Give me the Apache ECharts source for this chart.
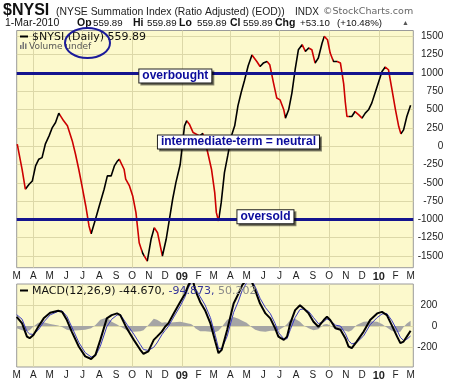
<!DOCTYPE html>
<html><head><meta charset="utf-8">
<script src="https://cdn.jsdelivr.net/npm/echarts@6/dist/echarts.min.js"></script>
<style>html,body{margin:0;padding:0;background:#fff}#c{width:461px;height:383px}</style>
</head><body><div id="c"></div>
<script>
// x values are calendar days counted from 1-Mar-2008
const START = Date.UTC(2008, 2, 1);
const DAY = 86400000;

// $NYSI (ratio adjusted summation index)
const nysiDays = [1,10,16,18,23,29,35,41,47,53,60,66,72,78,80,87,94,103,109,115,121,128,134,138,141,146,153,162,168,175,181,186,190,199,202,209,215,221,227,233,236,242,249,255,261,270,277,283,289,295,303,306,311,315,320,327,333,339,345,354,361,367,370,374,379,385,391,398,404,410,416,422,429,436,445,451,457,464,469,476,482,488,495,498,504,510,516,522,529,535,541,547,553,559,566,570,576,581,587,594,600,606,609,612,615,621,627,634,640,646,652,658,665,671,677,683,689,695,702,708,712,717,723,730];
const nysiValues = [27,-316,-588,-602,-520,-475,-270,-178,-156,27,141,254,323,451,460,346,278,72,-110,-315,-543,-817,-1090,-1196,-1182,-999,-817,-588,-406,-406,-270,-210,-178,-315,-451,-543,-680,-908,-1319,-1456,-1456,-1569,-1272,-1113,-1182,-1500,-1272,-999,-725,-498,-250,-51,278,346,301,186,164,141,175,-87,-315,-635,-908,-1022,-772,-361,-133,141,278,551,733,893,1098,1245,1157,1089,1135,1157,1112,862,657,633,497,383,497,725,1044,1317,1386,1294,1340,1317,1135,1204,1409,1499,1454,1272,1157,1157,1135,850,600,405,383,405,473,428,383,451,497,588,747,884,1020,1081,1044,793,497,268,168,223,405,559.89];

// MACD(12,26,9) panel
const macdDays = [0,10,19,24,31,40,50,62,77,84,93,102,115,127,138,146,155,167,176,186,192,204,217,229,235,244,254,260,269,275,281,291,303,312,318,323,327,331,340,349,359,368,374,380,390,402,411,418,426,435,442,451,461,470,479,485,495,501,507,516,525,532,541,550,559,569,575,581,591,600,609,615,621,630,643,655,668,677,686,695,705,711,717,723,730];
const macdValues = [88,25,-101,-116,-85,-7,73,126,145,135,57,-53,-195,-289,-314,-274,-132,73,104,120,104,-22,-132,-226,-264,-242,-132,-101,-53,-7,25,120,229,308,387,430,425,340,229,151,25,-148,-258,-226,-38,214,308,390,440,430,340,214,120,73,-22,-101,-132,-101,25,151,198,167,120,41,-7,57,88,57,-22,-35,-116,-195,-210,-148,-53,57,120,135,104,9,-101,-163,-148,-101,-44.67];
const signalValues = [108,65,-51,-76,-80,-37,38,106,140,145,92,-8,-155,-254,-294,-284,-192,-7,64,105,109,18,-77,-176,-224,-232,-202,-161,-83,-42,-5,85,189,278,362,410,420,360,279,201,80,-88,-213,-216,-98,129,238,340,410,440,375,264,175,118,23,-61,-122,-121,-35,81,158,162,140,81,23,42,68,52,8,0,-71,-140,-170,-158,-93,12,80,115,119,54,-41,-108,-138,-126,-94.873];
const histValues = [-20,-40,-50,-40,-5,30,35,20,5,-10,-35,-45,-40,-35,-20,10,60,80,40,15,-5,-40,-55,-50,-40,10,70,60,30,35,30,35,40,30,25,20,5,-20,-50,-50,-55,-60,-45,-10,60,85,70,50,30,-10,-35,-50,-55,-45,-45,-40,-10,20,60,70,40,5,-20,-40,-30,15,20,5,-30,-35,-45,-55,-40,10,40,45,40,20,-15,-45,-60,-55,-10,25,50.202];

const mainTicks = [-1500,-1250,-1000,-750,-500,-250,0,250,500,750,1000,1250,1500];
const macdTicks = [-200,0,200];
const levels = [{name:'overbought', value:1000}, {name:'oversold', value:-1000}];
const notes = [
  {name:'overbought', day:294, value:958},
  {name:'intermediate-term = neutral', day:411, value:57},
  {name:'oversold', day:461, value:-963}
];
const monthLetters = ['J','F','M','A','M','J','J','A','S','O','N','D'];

const X_MAX = 735;
function dateOf(d){ return new Date(START + d*DAY); }
const monthStarts = [];
for (let y=2008, m=2;;) {
  const d = Math.round((Date.UTC(y,m,1)-START)/DAY);
  if (d > X_MAX) break;
  monthStarts.push(d);
  m++; if (m>11){m=0;y++;}
}
const quarterStarts = monthStarts.filter(d => dateOf(d).getUTCMonth()%3===0);
function monthLabel(v){
  const dt = dateOf(Math.round(v));
  const m = dt.getUTCMonth();
  if (m===0) return '{y|'+String(dt.getUTCFullYear()).slice(2)+'}';
  return monthLetters[m];
}

const zip = (a,b) => a.map((d,i)=>[d,b[i]]);

// rising = black, falling = red
const RED = '#cc0000', BLACK = '#000000';
const pieces = [];
for (let i=0;i<nysiDays.length-1;i++){
  const c = nysiValues[i+1] >= nysiValues[i] ? BLACK : RED;
  const last = pieces[pieces.length-1];
  if (last && last.color===c) last.lt = nysiDays[i+1];
  else pieces.push({gte:nysiDays[i], lt:nysiDays[i+1], color:c});
}
pieces[0].gte = -10;
pieces[pieces.length-1].lt = X_MAX + 10;

const BG = '#fcf9cc', GRID = '#dcd8a8', FR = '#9a9a9a';
const SANS = 'Liberation Sans, Arial, sans-serif';
const VER = 'DejaVu Sans, Verdana, sans-serif';

const xAxisBase = (gi, margin) => ({
  gridIndex: gi, type:'value', min:0, max:X_MAX,
  axisLine:{show:false},
  axisTick:{show:false, customValues: quarterStarts},
  axisLabel:{customValues: monthStarts, formatter: monthLabel, fontSize:10, color:'#222',
    fontFamily:SANS, margin: margin, rich:{y:{fontWeight:'bold', fontSize:11, color:'#222', fontFamily:SANS}}},
  splitLine:{show:true, lineStyle:{color:GRID, width:1}}
});

const txt = (text, x, y, font, fill, extra) => ({type:'text', z:100, style:Object.assign({text, x, y, font, fill, verticalAlign:'middle'}, extra||{})});
const plain = v => String(v);

const option = {
  animation:false,
  backgroundColor:'#ffffff',
  grid:[
    {left:16.7, top:30.5, width:396.6, height:237.2, show:true, backgroundColor:BG, borderColor:FR, borderWidth:1},
    {left:16.7, top:284, width:396.6, height:83, show:true, backgroundColor:BG, borderColor:FR, borderWidth:1}
  ],
  xAxis:[ xAxisBase(0,4), xAxisBase(1,3) ],
  yAxis:[
    {gridIndex:0, type:'value', position:'right', min:-1660, max:1580,
      axisLine:{show:false}, axisTick:{show:false, customValues:mainTicks},
      axisLabel:{customValues:mainTicks, formatter:plain, align:'right', margin:30, fontSize:10, color:'#222', fontFamily:SANS},
      splitLine:{show:true, lineStyle:{color:GRID, width:1}}},
    {gridIndex:1, type:'value', position:'right', min:-390, max:400,
      axisLine:{show:false}, axisTick:{show:false, customValues:macdTicks},
      axisLabel:{customValues:macdTicks, formatter:plain, align:'right', margin:24, fontSize:10, color:'#222', fontFamily:SANS},
      splitLine:{show:true, lineStyle:{color:GRID, width:1}}}
  ],
  visualMap:{type:'piecewise', show:false, seriesIndex:0, dimension:0, pieces:pieces, outOfRange:{color:BLACK}},
  series:[
    {name:'$NYSI', type:'line', xAxisIndex:0, yAxisIndex:0, data:zip(nysiDays,nysiValues),
      showSymbol:false, symbol:'none', lineStyle:{width:1.6}, z:3},
    {name:'levels', type:'line', xAxisIndex:0, yAxisIndex:0, data:[], z:2,
      markLine:{silent:true, symbol:'none', animation:false,
        lineStyle:{color:'#14148f', width:3, type:'solid'}, label:{show:false},
        data: levels.map(l=>({yAxis:l.value}))},
      markPoint:{silent:true, symbol:'rect', symbolSize:1, itemStyle:{color:'rgba(0,0,0,0)'}, z:10,
        label:{show:true, position:'inside', formatter:'{b}', color:'#0b0b9c', fontWeight:'bold', fontSize:12,
          fontFamily:SANS, backgroundColor:'#ffffff', borderColor:'#222', borderWidth:1, padding:[1,3,0,3],
          shadowColor:'rgba(0,0,0,0.45)', shadowOffsetX:2, shadowOffsetY:2, shadowBlur:0},
        data: notes.map(n=>({name:n.name, coord:[n.day, n.value]}))}
    },
    {name:'Histogram', type:'line', xAxisIndex:1, yAxisIndex:1, data:zip(macdDays,histValues),
      showSymbol:false, symbol:'none', lineStyle:{width:0}, itemStyle:{color:'#a5a5a5'},
      areaStyle:{color:'#a5a5a5', opacity:1, origin:'auto'}, z:1},
    {name:'Signal', type:'line', xAxisIndex:1, yAxisIndex:1, data:zip(macdDays,signalValues),
      showSymbol:false, symbol:'none', lineStyle:{width:1, color:'#3b3bc0'}, itemStyle:{color:'#3b3bc0'}, z:2},
    {name:'MACD', type:'line', xAxisIndex:1, yAxisIndex:1, data:zip(macdDays,macdValues),
      showSymbol:false, symbol:'none', lineStyle:{width:2, color:'#000'}, itemStyle:{color:'#000'}, z:3}
  ],
  graphic:[
    txt('$NYSI', 3, 11, 'bold 16px '+SANS, '#111'),
    txt('(NYSE Summation Index (Ratio Adjusted) (EOD))', 56, 12, '10.4px '+SANS, '#222'),
    txt('INDX', 295, 12, '10px '+SANS, '#222'),
    txt('\u00A9StockCharts.com', 323, 12, '9.5px '+VER, '#666'),
    txt('1-Mar-2010', 5, 23, '10.5px '+SANS, '#111'),
    txt('Op', 77, 23, 'bold 10.5px '+SANS, '#111'),
    txt('559.89', 93, 23, '9.7px '+SANS, '#111'),
    txt('Hi', 133, 23, 'bold 10.5px '+SANS, '#111'),
    txt('559.89', 147, 23, '9.7px '+SANS, '#111'),
    txt('Lo', 179, 23, 'bold 10.5px '+SANS, '#111'),
    txt('559.89', 197, 23, '9.7px '+SANS, '#111'),
    txt('Cl', 230, 23, 'bold 10.5px '+SANS, '#111'),
    txt('559.89', 243, 23, '9.7px '+SANS, '#111'),
    txt('Chg', 275, 23, 'bold 10.5px '+SANS, '#111'),
    txt('+53.10', 300, 23, '9.7px '+SANS, '#111'),
    txt('(+10.48%)', 337, 23, '9.7px '+SANS, '#111'),
    txt('\u25B2', 402, 23, '7px '+SANS, '#555'),
    {type:'line', z:100, shape:{x1:20, y1:36.5, x2:28, y2:36.5}, style:{stroke:'#000', lineWidth:2}},
    txt('$NYSI (Daily) 559.89', 32, 37, '11px '+VER, '#111'),
    {type:'rect', z:100, shape:{x:20, y:45, width:1.5, height:4}, style:{fill:'#777'}},
    {type:'rect', z:100, shape:{x:22.5, y:42, width:1.5, height:7}, style:{fill:'#777'}},
    {type:'rect', z:100, shape:{x:25, y:43.5, width:1.5, height:5.5}, style:{fill:'#777'}},
    txt('Volume undef', 29, 46.5, '9px '+VER, '#555'),
    {type:'ellipse', z:101, shape:{cx:87.5, cy:43, rx:22.5, ry:15}, style:{fill:null, stroke:'#1b1b9a', lineWidth:2}},
    {type:'line', z:100, shape:{x1:20, y1:290.5, x2:28, y2:290.5}, style:{stroke:'#000', lineWidth:2}},
    {type:'text', z:100, style:{x:32, y:291, verticalAlign:'middle', font:'11px '+VER,
      text:'{a|MACD(12,26,9) -44.670, }{b|-94.873, }{c|50.202}',
      rich:{a:{fill:'#111', font:'11px '+VER}, b:{fill:'#34349a', font:'11px '+VER}, c:{fill:'#8a8a8a', font:'11px '+VER}}}}
  ]
};
const chart = echarts.init(document.getElementById('c'));
chart.setOption(option);
</script>
</body></html>
